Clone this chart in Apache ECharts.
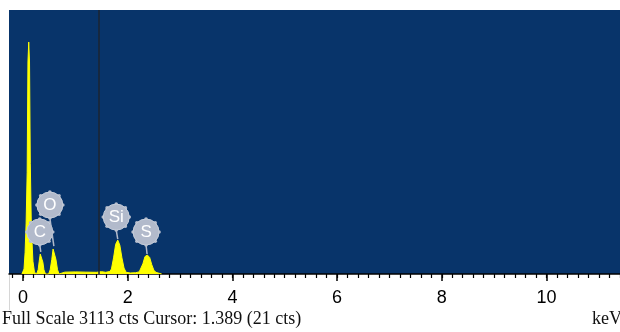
<!DOCTYPE html>
<html>
<head>
<meta charset="utf-8">
<script src="https://cdn.jsdelivr.net/npm/echarts@6/dist/echarts.min.js"></script>
<style>
html,body{margin:0;padding:0;background:#fff;}
#chart{width:620px;height:332px;}
</style>
</head>
<body>
<div id="chart"></div>
<script>
// ---- data ----
// spectrum points: energy (keV) and counts
var spectrumEnergy = [-0.02,0.02,0.04,0.06,0.08,0.095,0.11,0.125,0.14,0.16,0.19,0.22,0.24,
  0.26,0.29,0.31,0.33,0.345,0.36,0.38,0.40,0.43,
  0.49,0.52,0.55,0.575,0.59,0.61,0.63,0.66,0.69,
  0.70,0.80,1.0,1.2,1.4,1.5,1.58,1.66,
  1.69,1.73,1.77,1.81,1.85,1.89,1.93,1.97,2.05,2.15,2.22,
  2.25,2.29,2.33,2.375,2.42,2.46,2.50,2.54,2.58,2.65];
var spectrumCounts = [0,60,250,600,1200,2500,2735,2500,1300,550,150,20,0,
  0,50,150,235,248,225,140,50,0,
  0,50,170,295,318,280,170,50,0,
  5,22,25,22,20,28,20,30,
  60,190,350,400,340,190,70,20,12,15,25,
  45,120,205,224,195,110,45,20,12,0];
var elementNames = ['C','O','Si','S'];
var elementEnergy = [0.34,0.59,1.81,2.37];
var elementPeak = [248,318,400,224];
var tickLabels = ['0','2','4','6','8','10'];
var majorTickValues = [0,2,4,6,8,10];
var fullScale = 3113;
var cursorEnergy = 1.45;      // position of the cursor line
var footerText = 'Full Scale 3113 cts Cursor: 1.389 (21 cts)';
var unitText = 'keV';

// ---- layout / style ----
var xMin = -0.267, xMax = 11.404;
var labelLift = [21, 42, 23, 23];
var labelDx = [-1, -4, -1.5, -1];
var R = 13;
var bubbleColor = '#b2bacb';

var spectrum = spectrumEnergy.map(function(e,i){return [e, spectrumCounts[i]];});
var elements = elementNames.map(function(n,i){return [elementEnergy[i], elementPeak[i]];});
var minorTickValues = [];
for (var k = -1; k <= 57; k++) { minorTickValues.push(Math.round(k*0.2*10)/10); }

var chart = echarts.init(document.getElementById('chart'), null, {renderer:'canvas'});
chart.setOption({
  animation:false,
  grid:{left:9, right:0, top:10, bottom:58, show:true, backgroundColor:'#08346a', borderWidth:0},
  xAxis:[{
    type:'value', min:xMin, max:xMax,
    axisLine:{show:true, onZero:false, lineStyle:{color:'#000', width:1.5}},
    axisTick:{show:true, customValues:majorTickValues, length:7, lineStyle:{color:'#000', width:1.5}},
    axisLabel:{show:true, customValues:majorTickValues, margin:15, color:'#000',
      fontFamily:'Liberation Sans, Arial, sans-serif', fontSize:18,
      formatter:function(v){ var i = majorTickValues.indexOf(v); return i>=0 ? tickLabels[i] : ''; }},
    splitLine:{show:false}
  },{
    type:'value', min:xMin, max:xMax, position:'bottom',
    axisLine:{show:false},
    axisTick:{show:true, customValues:minorTickValues, length:4, lineStyle:{color:'#000', width:1.2}},
    axisLabel:{show:false}, splitLine:{show:false}
  }],
  yAxis:{type:'value', min:0, max:fullScale, show:false, splitLine:{show:false}},
  series:[{
    type:'line', data:spectrum, xAxisIndex:0, showSymbol:false, smooth:false,
    lineStyle:{color:'#ffff00', width:1},
    areaStyle:{color:'#ffff00', opacity:1},
    z:2,
    markLine:{silent:true, symbol:'none', label:{show:false},
      lineStyle:{color:'#1b2533', width:1.5, type:'solid'},
      data:[{xAxis:cursorEnergy}]}
  },{
    type:'custom', data:elements, xAxisIndex:0, z:5,
    renderItem:function(params, api){
      var i = params.dataIndex;
      var p = api.coord([api.value(0), api.value(1)]);
      var cx = p[0] + labelDx[i], cy = p[1] - labelLift[i];
      var children = [{
        type:'line', shape:{x1:p[0], y1:p[1]-1, x2:cx, y2:cy+R},
        style:{stroke:bubbleColor, lineWidth:1.5}
      }];
      for (var a = 0; a < 8; a++) {
        var ang = a*Math.PI/4;
        children.push({type:'circle', shape:{cx:cx+Math.cos(ang)*R, cy:cy+Math.sin(ang)*R, r:1.8},
          style:{fill:bubbleColor}});
      }
      children.push({type:'circle', shape:{cx:cx, cy:cy, r:R},
        style:{fill:bubbleColor, stroke:'#c6cdd9', lineWidth:1}});
      children.push({type:'text', style:{x:cx, y:cy+0.5, text:elementNames[i], fill:'#ffffff',
        font:'17px "Liberation Sans", Arial, sans-serif', align:'center', verticalAlign:'middle'}});
      return {type:'group', children:children};
    }
  }],
  graphic:[
    {type:'line', shape:{x1:9.5, y1:275, x2:9.5, y2:310}, style:{stroke:'#d6d6d6', lineWidth:1}},
    {type:'text', left:2, top:310, style:{text:footerText, fill:'#111',
      font:'18px "Liberation Serif", "Times New Roman", serif'}},
    {type:'text', left:592, top:310, style:{text:unitText, fill:'#111',
      font:'18px "Liberation Serif", "Times New Roman", serif'}}
  ]
});
</script>
</body>
</html>
